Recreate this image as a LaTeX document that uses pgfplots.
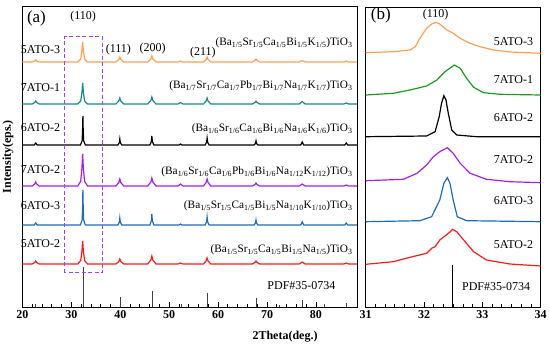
\documentclass[border=0pt]{standalone}
\usepackage{pgfplots}
\pgfplotsset{compat=1.18}
\usepackage{fontspec}
\setmainfont{Liberation Serif}
\definecolor{cOr}{HTML}{FFA050}
\definecolor{cTe}{HTML}{1A8A8A}
\definecolor{cPu}{HTML}{A020F0}
\definecolor{cBl}{HTML}{1F6DB5}
\definecolor{cRe}{HTML}{FF1A1A}
\definecolor{cGr}{HTML}{1E9B1E}
\definecolor{cPd}{HTML}{404040}
\definecolor{cBox}{HTML}{A040FF}
\newcommand{\fs}{\fontsize{12}{14}\selectfont}
\newcommand{\ff}{\fontsize{11.3}{13}\selectfont}
\newcommand{\s}[1]{\textsubscript{#1}}
\begin{document}
\begin{tikzpicture}
\useasboundingbox (0,0) rectangle (550pt,349pt);
\pgfplotsset{myax/.style={anchor=south west, scale only axis, ymin=0, ymax=301,
  ytick=\empty, xtick pos=bottom, tick align=inside,
  major tick length=5pt, minor tick length=3pt,
  axis line style={line width=0.9pt}, tick style={line width=0.8pt, black},
  tick label style={font=\fs\bfseries}, /pgf/number format/assume math mode=true,
  clip=false}}
% ---------------- panel (a)
\begin{axis}[myax, at={(22.5pt,42pt)}, width=334.5pt, height=301pt,
  xmin=20, xmax=88.4, xtick={20,30,...,80}, minor x tick num=4]
\addplot[cOr, line width=1.2pt] coordinates {
(20,245)(22.0,245)(22.5,246)(22.7,247)(22.9,246)(23.4,245)
(31.3,245)(31.9,248)(32.15,256)(32.3,265)(32.45,256)(32.7,248)(33.3,245)
(39.1,245)(39.7,247.5)(39.9,250)(40.1,247.5)(40.7,245)
(45.6,245)(46.25,248)(46.45,251)(46.65,248)(47.3,245)
(51.8,245)(52.3,246)(52.8,245)
(57.0,245)(57.55,247.5)(57.75,250)(57.95,247.5)(58.5,245)
(67.0,245)(67.55,246.5)(67.75,248)(67.95,246.5)(68.5,245)
(76.6,245)(77.2,246.5)(77.8,245)
(85.7,245)(86.2,246)(86.7,245)(88.4,245)};
\addplot[cTe, line width=1.2pt] coordinates {
(20,203)(22.0,203)(22.5,204.5)(22.7,206)(22.9,204.5)(23.4,203)
(31.3,203)(31.9,206)(32.15,214.5)(32.3,224)(32.45,214.5)(32.7,206)(33.3,203)
(39.1,203)(39.7,206)(39.9,209)(40.1,206)(40.7,203)
(45.6,203)(46.25,206.5)(46.45,210)(46.65,206.5)(47.3,203)
(51.8,203)(52.3,204.5)(52.8,203)
(57.0,203)(57.55,206)(57.75,209)(57.95,206)(58.5,203)
(67.0,203)(67.55,204.5)(67.75,206)(67.95,204.5)(68.5,203)
(76.6,203)(77.2,205.5)(77.8,203)
(85.7,203)(86.2,204)(86.7,203)(88.4,203)};
\addplot[black, line width=1.2pt] coordinates {
(20,162)(22.4,162)(22.7,164)(23.0,162)
(31.85,162)(32.2,166.4)(32.3,179.4)(32.35,191)(32.4,179.4)(32.5,166.4)(32.85,162)
(39.5,162)(39.8,164.4)(39.9,168)(40.0,164.4)(40.3,162)
(46.05,162)(46.35,165.6)(46.45,171)(46.55,165.6)(46.85,162)
(52.0,162)(52.3,163)(52.6,162)
(57.35,162)(57.65,164.8)(57.75,169)(57.85,164.8)(58.15,162)
(67.35,162)(67.65,163.6)(67.75,166)(67.85,163.6)(68.15,162)
(76.9,162)(77.2,165)(77.5,162)
(85.9,162)(86.2,164)(86.5,162)(88.4,162)};
\addplot[cPu, line width=1.2pt] coordinates {
(20,121)(22.0,121)(22.5,123)(22.7,125)(22.9,123)(23.4,121)
(31.3,121)(31.9,125.8)(32.15,138.6)(32.3,153)(32.45,138.6)(32.7,125.8)(33.3,121)
(39.1,121)(39.7,124.5)(39.9,128)(40.1,124.5)(40.7,121)
(45.6,121)(46.25,125)(46.45,129)(46.65,125)(47.3,121)
(51.8,121)(52.3,123)(52.8,121)
(57.0,121)(57.55,124.5)(57.75,128)(57.95,124.5)(58.5,121)
(67.0,121)(67.55,122.5)(67.75,124)(67.95,122.5)(68.5,121)
(76.6,121)(77.2,123)(77.8,121)
(85.7,121)(86.2,122)(86.7,121)(88.4,121)};
\addplot[cBl, line width=1.2pt] coordinates {
(20,82)(22.4,82)(22.7,84)(23.0,82)
(31.85,82)(32.2,87.3)(32.3,103)(32.35,117)(32.4,103)(32.5,87.3)(32.85,82)
(39.5,82)(39.8,84.8)(39.9,89)(40.0,84.8)(40.3,82)
(46.05,82)(46.35,86.4)(46.45,93)(46.55,86.4)(46.85,82)
(52.0,82)(52.3,83)(52.6,82)
(57.35,82)(57.65,85.2)(57.75,90)(57.85,85.2)(58.15,82)
(67.35,82)(67.65,84)(67.75,87)(67.85,84)(68.15,82)
(76.9,82)(77.2,85)(77.5,82)
(85.9,82)(86.2,84)(86.5,82)(88.4,82)};
\addplot[cRe, line width=1.2pt] coordinates {
(20,43)(22.0,43)(22.5,44.5)(22.7,46)(22.9,44.5)(23.4,43)
(31.3,43)(31.9,46.5)(32.15,55.7)(32.3,66)(32.45,55.7)(32.7,46.5)(33.3,43)
(39.1,43)(39.7,45.5)(39.9,48)(40.1,45.5)(40.7,43)
(45.6,43)(46.25,47)(46.45,51)(46.65,47)(47.3,43)
(51.8,43)(52.3,44)(52.8,43)
(57.0,43)(57.55,46)(57.75,49)(57.95,46)(58.5,43)
(67.0,43)(67.55,44.5)(67.75,46)(67.95,44.5)(68.5,43)
(76.6,43)(77.2,45)(77.8,43)
(85.7,43)(86.2,44)(86.7,43)(88.4,43)};
\addplot[cPd, ycomb, line width=1pt, mark=none] coordinates {
(22.6,3)(32.4,40)(40.0,10)(46.5,16)(52.5,3)(57.9,14)(67.9,9)(72.5,2)(77.3,7)(81.8,3)(86.3,4)};
\draw[cBox, dash pattern=on 4pt off 2.5pt, line width=1pt] (axis cs:28.6,34.3) rectangle (axis cs:36.4,270);
\node[font=\fontsize{17}{19}\selectfont, anchor=west] at (axis cs:20.2,289) {(a)};
\node[font=\fs] at (axis cs:32.4,290) {(110)};
\node[font=\fs] at (axis cs:39.6,257) {(111)};
\node[font=\fs] at (axis cs:46.6,258) {(200)};
\node[font=\fs] at (axis cs:56.9,254) {(211)};
\node[font=\fs, anchor=east] at (axis cs:28.4,257) {5ATO-3};
\node[font=\fs, anchor=east] at (axis cs:28.4,219) {7ATO-1};
\node[font=\fs, anchor=east] at (axis cs:28.4,179) {6ATO-2};
\node[font=\fs, anchor=east] at (axis cs:28.4,137) {7ATO-2};
\node[font=\fs, anchor=east] at (axis cs:28.4,101) {6ATO-3};
\node[font=\fs, anchor=east] at (axis cs:28.4,63) {5ATO-2};
\node[font=\ff, anchor=east] at (axis cs:88.2,264) {(Ba\s{1/5}Sr\s{1/5}Ca\s{1/5}Bi\s{1/5}K\s{1/5})TiO\s{3}};
\node[font=\ff, anchor=east] at (axis cs:88.2,221) {(Ba\s{1/7}Sr\s{1/7}Ca\s{1/7}Pb\s{1/7}Bi\s{1/7}Na\s{1/7}K\s{1/7})TiO\s{3}};
\node[font=\ff, anchor=east] at (axis cs:88.2,178) {(Ba\s{1/6}Sr\s{1/6}Ca\s{1/6}Bi\s{1/6}Na\s{1/6}K\s{1/6})TiO\s{3}};
\node[font=\ff, anchor=east] at (axis cs:88.2,135) {(Ba\s{1/6}Sr\s{1/6}Ca\s{1/6}Pb\s{1/6}Bi\s{1/6}Na\s{1/12}K\s{1/12})TiO\s{3}};
\node[font=\ff, anchor=east] at (axis cs:88.2,101) {(Ba\s{1/5}Sr\s{1/5}Ca\s{1/5}Bi\s{1/5}Na\s{1/10}K\s{1/10})TiO\s{3}};
\node[font=\ff, anchor=east] at (axis cs:88.2,57) {(Ba\s{1/5}Sr\s{1/5}Ca\s{1/5}Bi\s{1/5}Na\s{1/5})TiO\s{3}};
\node[font=\fs] at (axis cs:77.05,21) {PDF\#35-0734};
\node[font=\fs\bfseries, rotate=90] at (axis description cs:-0.043,0.5) {Intensity(eps.)};
\end{axis}
% ---------------- panel (b)
\begin{axis}[myax, at={(365.7pt,42pt)}, width=175pt, height=300pt, ymax=300,
  xmin=31, xmax=34, xtick={31,32,33,34}, minor x tick num=5]
\addplot[cOr, line width=1.2pt] coordinates {
(31.0,254.3)(31.47,255.3)(31.76,257)(31.85,260.3)(31.93,268.7)(32.045,278.7)(32.13,283)(32.205,284.7)(32.27,283)(32.39,277)(32.5,273.7)(32.62,268.7)(32.79,263.7)(32.96,260.3)(33.19,257)(33.47,255)(34.0,253.7)};
\addplot[cGr, line width=1.2pt] coordinates {
(31.0,212)(31.47,213.7)(31.76,217)(32.045,221)(32.22,227)(32.36,235.3)(32.52,242)(32.62,238.7)(32.73,228.7)(32.85,219.7)(33.02,214.3)(33.30,212.7)(34.0,212)};
\addplot[black, line width=1.2pt] coordinates {
(31.0,170.3)(32.045,171)(32.19,175.3)(32.26,190.3)(32.30,203.7)(32.34,211.3)(32.376,207)(32.416,193.7)(32.475,177)(32.56,172)(32.90,170.3)(34.0,170.3)};
\addplot[cPu, line width=1.2pt] coordinates {
(31.0,126.3)(31.645,127.7)(31.88,133.7)(32.045,142)(32.16,150.3)(32.27,155.3)(32.40,159.3)(32.50,153.7)(32.62,143.7)(32.79,133.7)(33.07,127.7)(33.47,125.3)(34.0,124.3)};
\addplot[cBl, line width=1.2pt] coordinates {
(31.0,85.3)(31.93,86.3)(32.13,90.3)(32.27,107)(32.34,123.7)(32.40,129.3)(32.445,123.7)(32.50,107)(32.57,90.3)(32.73,86.3)(34.0,85.3)};
\addplot[cRe, line width=1.2pt] coordinates {
(31.0,42.7)(31.47,45.3)(31.76,49.7)(32.045,53.7)(32.13,58.7)(32.19,60.3)(32.27,67)(32.36,71)(32.45,75.3)(32.49,77.7)(32.56,75.3)(32.68,67)(32.85,55.3)(33.07,47)(33.47,43)(34.0,41)};
\addplot[black, ycomb, line width=1pt, mark=none] coordinates {(32.485,42)};
\node[font=\fontsize{17}{19}\selectfont, anchor=west] at (axis cs:31.03,292) {(b)};
\node[font=\fs] at (axis cs:32.2,292) {(110)};
\node[font=\fs, anchor=east] at (axis cs:33.93,265) {5ATO-3};
\node[font=\fs, anchor=east] at (axis cs:33.93,227) {7ATO-1};
\node[font=\fs, anchor=east] at (axis cs:33.93,189) {6ATO-2};
\node[font=\fs, anchor=east] at (axis cs:33.93,147) {7ATO-2};
\node[font=\fs, anchor=east] at (axis cs:33.93,106) {6ATO-3};
\node[font=\fs, anchor=east] at (axis cs:33.93,62) {5ATO-2};
\node[font=\fs, anchor=east] at (axis cs:33.88,20) {PDF\#35-0734};
\end{axis}
\node[font=\fs\bfseries] at (285pt,12pt) {2Theta(deg.)};
\end{tikzpicture}
\end{document}
